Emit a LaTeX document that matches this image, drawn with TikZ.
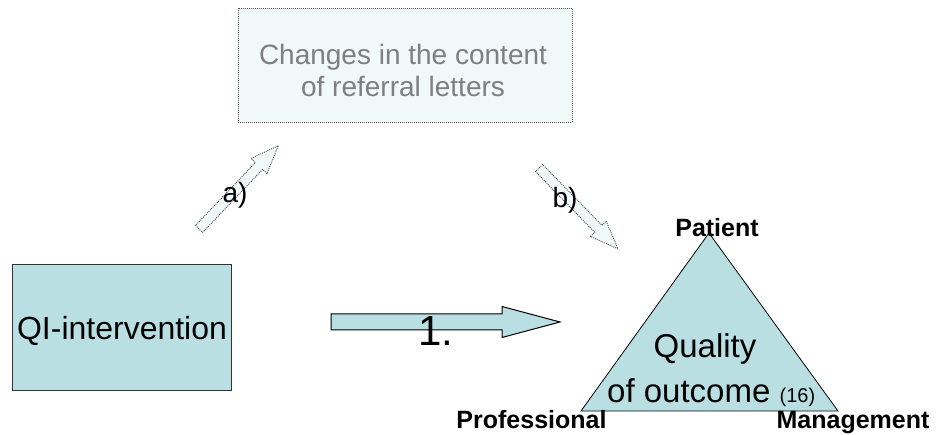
\documentclass[tikz,border=0pt]{standalone}
\usepackage{fontspec}
\setmainfont{Liberation Sans}
\usetikzlibrary{calc}

\definecolor{tealfill}{HTML}{B9DFE3}
\definecolor{palefill}{HTML}{F0F8F8}
\definecolor{dotline}{HTML}{555555}
\definecolor{softtext}{HTML}{7F7F7F}

% block arrow along the local x axis: style, length, shaft half-width,
% head half-width, head length
\newcommand{\blockarrow}[5]{%
  \draw[#1] (0,-#3) -- ({#2-#5},-#3) -- ({#2-#5},-#4) -- (#2,0)
    -- ({#2-#5},#4) -- ({#2-#5},#3) -- (0,#3) -- cycle;}

\newcommand{\fsz}[1]{\fontsize{#1}{#1}\selectfont}

\begin{document}
\begin{tikzpicture}[x=1pt,y=1pt,
  solidbox/.style={draw=black!80, line width=1pt, fill=tealfill},
  dotbox/.style={draw=dotline, line width=0.9pt, dash pattern=on 1pt off 1pt, fill=palefill},
  mainarrow/.style={draw=black, line width=1pt, fill=tealfill},
  sidearrow/.style={draw=dotline, line width=0.9pt, dash pattern=on 1pt off 1pt, fill=palefill},
  bigtext/.style={inner sep=0pt, anchor=base, font=\fsz{32}},
  cornerlabel/.style={inner sep=0pt, anchor=base, font=\fsz{25}\bfseries},
  steplabel/.style={inner sep=0pt, font=\fsz{28}}]

\useasboundingbox (0,0) rectangle (936,435);

% upper box: effect on the letters
\node[dotbox, minimum width=334pt, minimum height=114pt, inner sep=0pt] (changes) at (405,370) {};
\node[inner sep=0pt, anchor=base, font=\fsz{28}, text=softtext] (changesA) at (403,370) {Changes in the content};
\node[inner sep=0pt, anchor=base, font=\fsz{28}, text=softtext] (changesB) at (403,338) {of referral letters};

% intervention box
\node[solidbox, minimum width=219pt, minimum height=126pt, inner sep=0pt] (qi) at (121.5,107) {};
\node[bigtext] (qitext) at (122,95) {QI-intervention};

% outcome triangle
\coordinate (apex) at (709,202);
\coordinate (pleft) at (581,24);
\coordinate (pright) at (838,24);
\draw[draw=black, line width=0.8pt, fill=tealfill] (apex) -- (pleft) -- (pright) -- cycle;
\node[bigtext, font=\fsz{33}] (quality) at (705,77) {Quality};
\node[inner sep=0pt, anchor=base west, font=\fsz{33}] (outcome) at (607,32) {of outcome {\fsz{20}(16)}};
\node[cornerlabel] (patient) at (717,198) {Patient};
\node[cornerlabel] (professional) at (531.5,6) {Professional};
\node[cornerlabel] (management) at (853,6) {Management};

% direct effect arrow
\coordinate (mainstart) at (331,113);
\begin{scope}[shift={(mainstart)}]
  \blockarrow{mainarrow}{229}{8}{15.5}{58}
\end{scope}
\node[inner sep=0pt, font=\fsz{42}] (one) at (436,104) {1.};

% indirect path: intervention -> letters -> outcome
\coordinate (astart) at (199,206);
\begin{scope}[shift={(astart)}, rotate=46.4]
  \blockarrow{sidearrow}{115}{5}{11}{28}
\end{scope}
\node[steplabel] (alabel) at (235,240) {a)};

\coordinate (bstart) at (539,267);
\begin{scope}[shift={(bstart)}, rotate=-45.7]
  \blockarrow{sidearrow}{113}{5}{11}{28}
\end{scope}
\node[steplabel] (blabel) at (565,235) {b)};

\end{tikzpicture}
\end{document}
